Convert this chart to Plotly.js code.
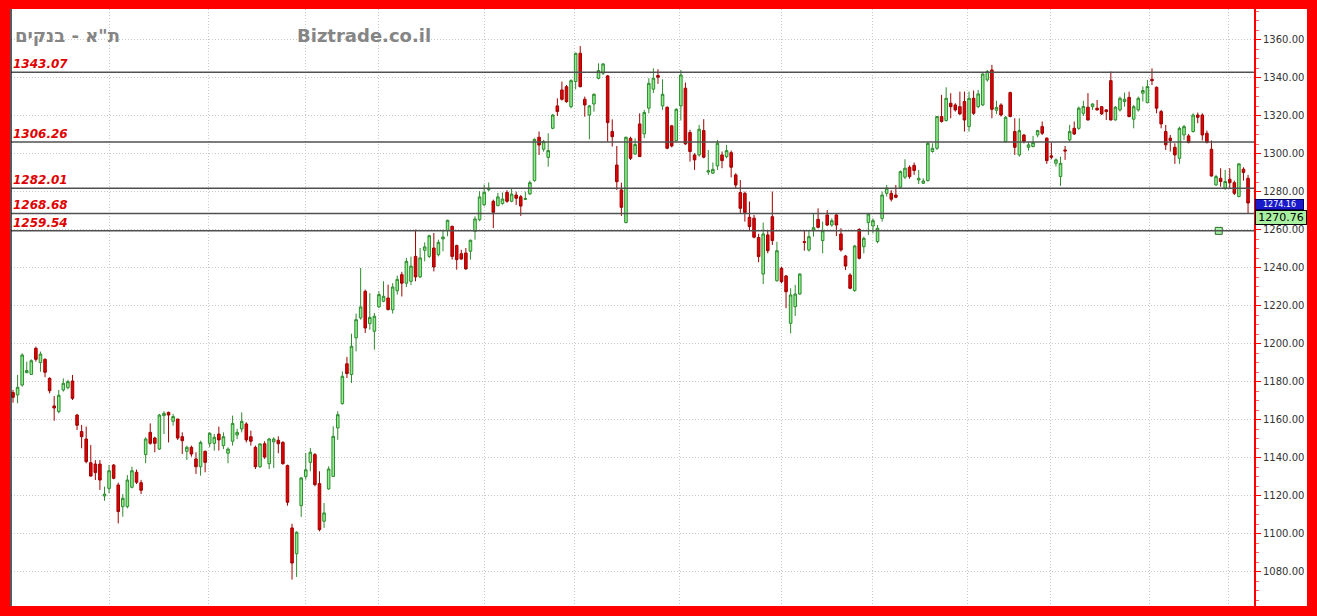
<!DOCTYPE html>
<html><head><meta charset="utf-8">
<script src="https://cdn.plot.ly/plotly-3.0.1.min.js"></script>
<style>
html,body{margin:0;padding:0;background:#ff0000;width:1317px;height:616px;overflow:hidden}
#chart{position:absolute;left:10px;top:9px;width:1297px;height:597px;background:#fff}
</style></head><body><div id="chart"></div>
<script>
const openP = [
1174.4,1173.2,1178.4,1184.9,1184.0,1197.7,1190.2,1191.9,1181.9,1167.4,
1164.4,1175.8,1177.0,1180.5,1162.6,1153.9,1150.0,1137.5,1136.8,1136.8,
1120.0,1124.0,1136.3,1125.8,1114.4,1114.4,1124.6,1132.5,1127.0,1141.8,
1153.5,1150.5,1144.7,1162.3,1164.0,1159.3,1160.5,1151.2,1143.5,1145.6,
1139.5,1135.4,1143.5,1147.7,1147.7,1152.6,1146.5,1142.5,1148.8,1152.1,
1155.3,1157.9,1151.2,1145.6,1135.4,1147.5,1137.0,1148.5,1149.3,1148.2,
1136.0,1103.2,1089.6,1114.9,1130.3,1137.7,1141.8,1126.5,1106.7,1123.7,
1130.3,1155.8,1168.6,1189.6,1183.9,1203.2,1213.7,1227.7,1210.7,1206.7,
1219.5,1222.5,1224.2,1218.0,1228.0,1236.5,1232.0,1233.0,1246.1,1235.3,
1249.3,1246.1,1250.5,1247.0,1255.3,1259.8,1261.9,1251.8,1247.5,1247.9,
1248.8,1259.3,1265.4,1273.3,1281.2,1275.1,1272.8,1273.9,1279.8,1275.1,
1278.4,1277.5,1276.1,1279.0,1286.0,1308.8,1302.5,1298.2,1313.5,1325.3,
1333.7,1335.4,1324.9,1338.1,1353.0,1328.8,1320.5,1326.3,1339.8,1342.5,
1341.1,1311.8,1294.2,1281.1,1263.9,1308.2,1300.0,1315.8,1310.6,1324.1,
1334.1,1341.3,1325.3,1324.6,1314.8,1307.0,1325.3,1334.6,1311.3,1299.5,
1299.5,1312.3,1290.5,1289.9,1293.7,1299.5,1298.6,1300.7,1289.0,1279.7,
1279.3,1266.7,1266.2,1256.0,1236.8,1257.4,1267.0,1233.3,1239.8,1235.8,
1210.9,1219.6,1226.3,1253.9,1249.5,1260.0,1265.6,1254.4,1267.9,1262.6,
1267.9,1257.9,1246.3,1236.3,1228.1,1260.3,1251.2,1263.9,1262.1,1253.9,
1266.1,1279.3,1279.3,1278.4,1282.5,1287.8,1293.0,1294.0,1286.3,1284.6,
1286.0,1301.3,1303.0,1319.7,1317.6,1326.7,1325.8,1324.9,1327.6,1314.4,
1329.3,1324.9,1325.8,1339.0,1344.2,1323.0,1325.8,1306.5,1332.3,1311.8,
1299.5,1310.0,1303.5,1303.9,1310.0,1314.4,1308.3,1299.0,1295.1,1288.1,
1302.1,1307.4,1313.5,1313.5,1321.4,1324.6,1324.9,1324.1,1324.9,1323.2,
1338.6,1317.9,1323.2,1327.6,1329.8,1318.3,1323.2,1332.0,1327.0,1339.3,
1335.1,1322.3,1311.8,1308.3,1303.5,1297.7,1310.0,1309.5,1311.8,1320.5,
1320.5,1310.9,1302.5,1283.7,1287.2,1282.0,1286.7,1284.9,1277.6,1292.0,1287.2];
const highP = [
1175.8,1183.7,1195.1,1190.7,1191.9,1198.6,1196.0,1192.5,1182.5,1172.6,
1175.8,1181.9,1181.1,1183.7,1163.2,1157.4,1156.5,1146.8,1138.9,1138.9,
1124.9,1136.3,1136.8,1127.0,1121.0,1131.0,1135.4,1133.9,1128.5,1150.9,
1158.2,1151.2,1163.2,1164.6,1164.4,1163.2,1160.5,1153.5,1146.5,1146.5,
1143.0,1149.1,1143.9,1153.5,1152.6,1156.5,1153.5,1145.6,1162.3,1155.3,
1164.0,1158.8,1154.4,1146.5,1147.7,1148.8,1150.5,1150.9,1151.4,1148.8,
1136.5,1105.4,1101.4,1130.0,1142.6,1145.3,1142.6,1133.0,1116.3,1135.6,
1156.7,1164.6,1185.6,1193.2,1205.4,1216.0,1240.0,1228.6,1226.8,1216.3,
1227.7,1233.0,1231.2,1232.0,1236.0,1238.0,1245.3,1246.0,1260.2,1250.5,
1253.5,1257.5,1258.4,1254.9,1260.2,1265.4,1262.3,1252.3,1249.6,1250.5,
1254.9,1267.2,1280.4,1283.9,1285.0,1276.0,1279.5,1279.8,1280.9,1281.6,
1280.2,1278.4,1280.2,1286.0,1308.2,1311.8,1307.4,1310.9,1321.1,1329.3,
1338.1,1336.3,1339.3,1353.3,1356.8,1330.2,1325.8,1331.9,1347.7,1347.7,
1341.6,1318.2,1304.2,1284.9,1309.1,1309.1,1308.2,1321.4,1323.2,1339.9,
1345.1,1344.6,1339.3,1325.0,1315.3,1324.1,1344.2,1337.6,1312.7,1300.4,
1315.3,1318.3,1302.1,1295.5,1307.4,1301.3,1304.8,1301.8,1289.9,1286.3,
1280.2,1275.0,1267.9,1258.0,1263.9,1260.0,1280.2,1253.8,1240.7,1236.3,
1229.3,1231.1,1237.2,1260.0,1260.0,1268.8,1271.4,1264.4,1270.5,1266.1,
1268.8,1260.9,1246.8,1237.2,1252.1,1260.9,1256.5,1268.8,1266.1,1262.6,
1280.2,1283.7,1281.0,1283.7,1291.3,1297.2,1294.0,1295.5,1291.6,1287.2,
1306.5,1305.6,1320.0,1331.1,1335.1,1332.0,1326.7,1332.8,1332.8,1332.8,
1333.4,1333.7,1342.5,1344.2,1346.9,1328.0,1326.7,1320.0,1332.8,1318.8,
1318.8,1310.5,1306.5,1309.5,1312.7,1317.1,1308.8,1306.0,1297.7,1298.6,
1304.2,1315.3,1317.1,1325.0,1328.0,1332.0,1326.7,1328.4,1325.3,1323.5,
1343.4,1325.3,1330.2,1332.3,1332.8,1325.8,1330.2,1335.5,1339.0,1345.1,
1335.5,1323.2,1315.3,1310.0,1305.6,1314.4,1315.3,1310.5,1321.4,1321.8,
1321.4,1312.3,1307.1,1289.0,1292.5,1291.6,1292.5,1286.0,1295.1,1293.0,1289.0];
const lowP = [
1169.1,1168.8,1177.5,1184.6,1183.7,1190.7,1185.4,1182.5,1174.0,1159.6,
1163.5,1174.9,1176.1,1170.5,1154.7,1145.1,1137.2,1130.2,1128.4,1123.2,
1117.5,1121.4,1128.8,1105.6,1109.1,1113.5,1124.0,1126.3,1121.0,1137.2,
1147.0,1143.0,1144.2,1152.6,1148.2,1157.0,1149.5,1142.1,1139.0,1140.7,
1131.6,1130.7,1132.5,1145.6,1143.9,1143.9,1144.7,1137.2,1146.5,1150.0,
1153.5,1148.2,1146.5,1134.2,1134.7,1139.5,1134.2,1134.7,1142.5,1136.5,
1114.9,1076.0,1077.4,1109.0,1128.6,1133.0,1125.1,1101.4,1103.2,1123.3,
1130.0,1149.6,1168.1,1182.1,1179.5,1196.1,1212.8,1205.8,1207.5,1197.0,
1219.0,1222.0,1217.7,1216.0,1226.0,1225.0,1230.0,1231.0,1233.0,1234.7,
1243.5,1245.3,1238.2,1246.1,1248.8,1256.7,1244.4,1239.1,1244.4,1239.1,
1244.4,1254.9,1264.6,1272.5,1280.4,1261.0,1272.5,1273.3,1274.3,1274.6,
1273.2,1267.4,1275.8,1278.4,1285.4,1299.5,1301.2,1293.3,1313.0,1320.0,
1328.1,1327.0,1324.0,1334.0,1335.1,1319.6,1307.7,1322.3,1339.3,1341.6,
1306.5,1303.9,1281.1,1267.4,1263.5,1296.8,1299.5,1298.6,1308.3,1321.4,
1332.0,1336.9,1323.2,1302.5,1303.5,1306.5,1317.6,1304.8,1296.0,1291.6,
1298.6,1297.7,1289.0,1289.5,1291.6,1292.5,1297.7,1287.7,1282.0,1268.8,
1264.4,1260.0,1255.6,1243.0,1231.5,1247.7,1252.1,1232.8,1231.9,1218.8,
1205.6,1214.7,1225.8,1249.1,1248.6,1256.5,1260.9,1247.7,1262.1,1261.7,
1256.8,1248.6,1238.9,1228.8,1227.5,1244.5,1247.7,1257.4,1258.2,1253.0,
1264.4,1277.6,1275.0,1276.7,1282.0,1286.8,1287.0,1289.0,1284.2,1284.2,
1285.5,1300.7,1302.1,1316.5,1317.1,1318.8,1322.3,1320.5,1311.8,1311.8,
1320.5,1324.1,1325.3,1338.1,1318.8,1321.0,1319.7,1306.0,1319.3,1299.5,
1298.6,1305.6,1301.8,1303.5,1308.8,1310.0,1294.8,1297.2,1293.4,1283.2,
1296.9,1306.5,1310.0,1312.7,1320.0,1317.6,1323.2,1322.8,1320.5,1317.9,
1317.6,1317.6,1322.3,1324.9,1319.3,1313.5,1322.3,1327.6,1326.7,1336.3,
1321.4,1313.5,1302.1,1301.3,1294.8,1294.8,1307.4,1305.6,1311.3,1316.2,
1307.1,1305.6,1288.1,1283.2,1282.8,1281.1,1282.0,1278.4,1277.2,1286.0,1268.7];
const closeP = [
1171.9,1177.2,1194.2,1186.0,1191.2,1191.9,1194.7,1185.1,1175.4,1166.3,
1173.0,1179.3,1180.2,1171.4,1157.2,1151.2,1138.1,1130.5,1132.3,1128.4,
1121.0,1133.3,1129.3,1111.8,1118.8,1128.4,1133.3,1127.2,1123.0,1150.0,
1147.7,1147.7,1162.6,1163.5,1162.6,1161.8,1150.5,1149.1,1145.6,1142.1,
1135.4,1148.2,1137.7,1153.0,1150.9,1149.5,1151.2,1144.7,1158.2,1153.5,
1159.3,1149.5,1148.8,1135.4,1147.4,1140.5,1150.0,1150.0,1147.5,1137.0,
1116.7,1084.7,1100.9,1129.5,1133.8,1143.0,1126.0,1102.3,1111.1,1134.2,
1151.4,1162.8,1183.0,1184.4,1198.8,1212.8,1219.5,1208.4,1214.0,1214.6,
1226.0,1225.1,1218.1,1230.0,1234.0,1232.0,1243.5,1241.0,1235.3,1245.3,
1251.1,1257.0,1240.5,1253.5,1256.3,1265.1,1246.1,1244.4,1244.7,1239.5,
1254.6,1265.8,1277.4,1279.8,1281.9,1269.3,1277.4,1276.3,1275.1,1278.9,
1276.7,1272.6,1276.5,1284.9,1307.7,1304.7,1306.5,1301.8,1320.5,1322.3,
1328.8,1327.5,1338.6,1353.0,1335.4,1325.8,1325.3,1331.4,1343.9,1347.4,
1316.5,1309.1,1285.4,1271.9,1308.8,1297.7,1305.0,1298.6,1321.8,1337.2,
1339.9,1340.4,1331.4,1303.0,1304.2,1323.5,1341.6,1305.3,1301.3,1296.9,
1313.0,1298.3,1291.2,1291.9,1305.6,1296.5,1301.8,1293.0,1283.7,1271.4,
1269.1,1261.8,1256.2,1246.0,1257.9,1249.1,1254.4,1249.1,1232.8,1227.5,
1225.8,1226.3,1236.8,1253.4,1256.5,1261.2,1261.4,1259.6,1262.6,1264.9,
1262.6,1249.5,1241.0,1229.3,1251.6,1245.1,1255.6,1268.4,1264.9,1260.9,
1278.4,1282.0,1276.2,1277.2,1290.7,1292.5,1288.1,1291.3,1287.2,1285.8,
1305.6,1303.0,1319.7,1317.1,1329.3,1324.9,1323.2,1321.1,1317.9,1329.3,
1321.4,1331.6,1342.1,1343.4,1323.5,1324.5,1320.5,1319.3,1319.7,1303.5,
1312.3,1306.5,1304.8,1306.0,1312.3,1310.9,1296.5,1298.3,1296.9,1295.1,
1301.6,1311.8,1310.5,1324.1,1325.0,1317.9,1326.3,1323.2,1321.1,1322.3,
1317.9,1324.6,1329.3,1328.8,1319.7,1324.9,1329.3,1333.4,1335.5,1338.6,
1324.1,1315.8,1304.8,1307.1,1299.5,1313.5,1314.4,1306.0,1320.5,1319.3,
1310.0,1306.0,1288.4,1288.1,1285.5,1285.5,1284.9,1279.3,1294.8,1290.2,1274.2];
const dayIndex = openP.map((v, i) => i);

const levelValues = [1343.07, 1306.26, 1282.01, 1268.68, 1259.54];
const levelLabels = ['1343.07', '1306.26', '1282.01', '1268.68', '1259.54'];
const monthLines = [21.2, 42.8, 64.0, 79.8, 103.0, 122.8, 145.8, 167.9, 188.0, 208.7, 226.9, 248.5, 265.8];
const yTickVals = [1080, 1100, 1120, 1140, 1160, 1180, 1200, 1220, 1240, 1260, 1280, 1300, 1320, 1340, 1360];
const yTickText = ['1080.00','1100.00','1120.00','1140.00','1160.00','1180.00','1200.00','1220.00','1240.00','1260.00','1280.00','1300.00','1320.00','1340.00','1360.00'];
const lastPrice = 1274.16;
const markPrice = 1270.76;
const markerX = [263.6];
const markerY = [1259.54];
const titleText = 'ת"א - בנקים';
const siteText = 'Biztrade.co.il';

const traces = [
  {
    type: 'candlestick', x: dayIndex, open: openP, high: highP, low: lowP, close: closeP,
    increasing: {line: {color: '#2e8b2e', width: 1}, fillcolor: '#90ee90'},
    decreasing: {line: {color: '#a00000', width: 1}, fillcolor: '#e00000'},
    whiskerwidth: 0, hoverinfo: 'none', showlegend: false
  },
  {
    type: 'scatter', mode: 'markers', x: markerX, y: markerY,
    marker: {symbol: 'square', size: 7, color: '#a8f0a8', line: {color: '#2d6a2d', width: 1}},
    hoverinfo: 'none', showlegend: false
  }
];

const shapes = levelValues.map(v => ({
  type: 'line', xref: 'paper', yref: 'y', x0: 0, x1: 1, y0: v, y1: v,
  line: {color: '#505050', width: 1.5}, layer: 'above'
}));
shapes.push({type: 'line', xref: 'paper', yref: 'paper', x0: 0, x1: 0, y0: 0, y1: 1, line: {color: '#222', width: 1.5}});

const annotations = levelValues.map((v, i) => ({
  xref: 'paper', yref: 'y', x: 0, y: v, xanchor: 'left', yanchor: 'bottom',
  text: '<b><i>' + levelLabels[i] + '</i></b>', showarrow: false, xshift: 0, yshift: -1,
  font: {family: 'DejaVu Sans, Verdana, sans-serif', size: 12, color: '#e00000'}
}));
annotations.push({
  xref: 'paper', yref: 'paper', x: 0.0016, y: 0.9548, xanchor: 'left', yanchor: 'middle',
  text: '<b>' + titleText + '</b>', showarrow: false,
  font: {family: 'DejaVu Sans, Verdana, sans-serif', size: 18, color: '#858585'}
});
annotations.push({
  xref: 'paper', yref: 'paper', x: 0.2285, y: 0.9548, xanchor: 'left', yanchor: 'middle',
  text: '<b>' + siteText + '</b>', showarrow: false,
  font: {family: 'DejaVu Sans, Verdana, sans-serif', size: 18, color: '#858585'}
});
annotations.push({
  xref: 'paper', yref: 'y', x: 1, y: markPrice, xanchor: 'left', yanchor: 'bottom',
  text: lastPrice.toFixed(2), showarrow: false, bgcolor: '#1a1acc', bordercolor: '#000066',
  borderwidth: 1, borderpad: 0, width: 47, height: 9, xshift: 1, yshift: 0,
  font: {family: 'DejaVu Sans, Verdana, sans-serif', size: 8, color: '#ffffff'}
});
annotations.push({
  xref: 'paper', yref: 'y', x: 1, y: markPrice, xanchor: 'left', yanchor: 'top',
  text: markPrice.toFixed(2), showarrow: false, bgcolor: '#a8f0a0', bordercolor: '#000000',
  borderwidth: 1, borderpad: 0, width: 50, xshift: 1,
  font: {family: 'DejaVu Sans, Verdana, sans-serif', size: 11, color: '#000000'}
});

const layout = {
  width: 1297, height: 597,
  margin: {l: 1, r: 53, t: 0, b: 0, pad: 0},
  paper_bgcolor: '#ffffff', plot_bgcolor: '#ffffff',
  showlegend: false,
  boxgap: 0.2,
  xaxis: {
    range: [-0.44, 271.3], rangeslider: {visible: false},
    tickmode: 'array', tickvals: monthLines, showticklabels: false, ticks: '',
    showgrid: true, gridcolor: '#c8c8c8', griddash: '1px,2px', gridwidth: 1,
    zeroline: false, showline: false, fixedrange: true
  },
  yaxis: {
    side: 'right', range: [1062.1, 1376.3],
    tickmode: 'array', tickvals: yTickVals, ticktext: yTickText,
    showgrid: true, gridcolor: '#c8c8c8', griddash: '1px,2px', gridwidth: 1,
    showline: true, linecolor: '#ff0000', linewidth: 2,
    ticks: 'outside', ticklen: 5, tickcolor: '#ff0000', tickwidth: 1,
    minor: {tickmode: 'linear', tick0: 1060, dtick: 5, ticks: 'outside', ticklen: 3, tickcolor: '#ff6060', showgrid: false},
    tickfont: {family: 'DejaVu Sans, Verdana, sans-serif', size: 10, color: '#333333'},
    zeroline: false, fixedrange: true
  },
  shapes: shapes,
  annotations: annotations
};

Plotly.newPlot('chart', traces, layout, {displayModeBar: false, staticPlot: true});
</script>
</body></html>
